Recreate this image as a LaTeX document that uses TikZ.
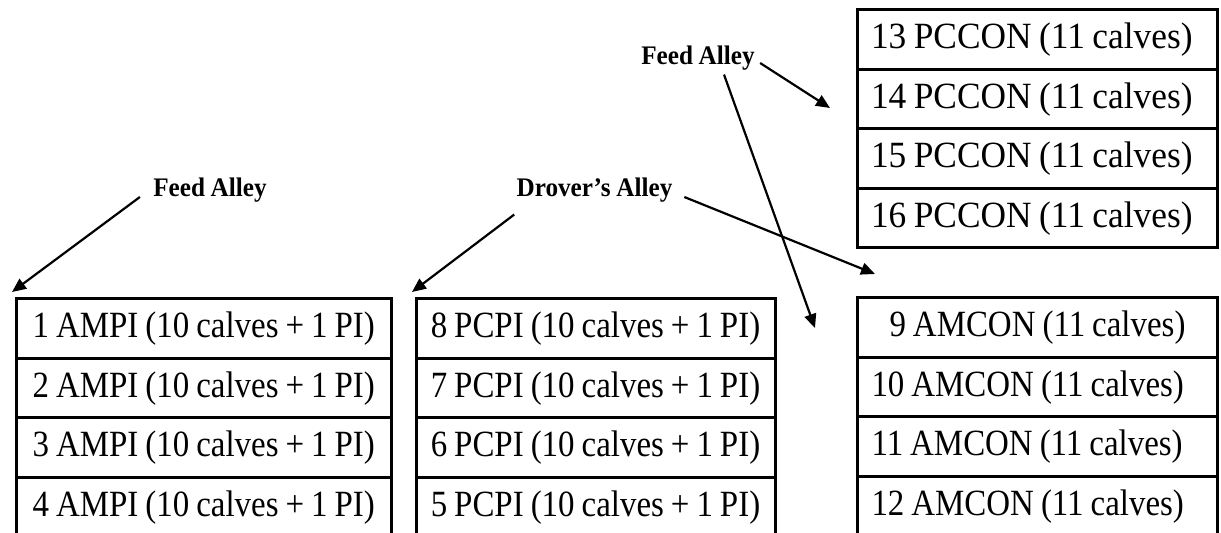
\documentclass[tikz,border=0pt]{standalone}
\usepackage{fontspec}
\setmainfont{Liberation Serif}
\newfontfamily\rowfam{Liberation Serif}[Ligatures=TeX, FakeStretch=0.89, WordSpace=0.85]
\newfontfamily\pcfam{Liberation Serif}[Ligatures=TeX, FakeStretch=0.955, WordSpace=0.85]
\newfontfamily\alleyfam{Liberation Serif}[Ligatures=TeX, FakeStretch=0.94, WordSpace=0.9]
\usetikzlibrary{positioning,arrows.meta}
\newcommand{\rowfont}{\rowfam\fontsize{18.5}{22}\selectfont}
\newcommand{\pcfont}{\pcfam\fontsize{18.5}{22}\selectfont}
\newcommand{\alleyfont}{\alleyfam\fontsize{13.4}{16}\selectfont\bfseries}
\tikzset{
  pen/.style={draw, line width=1.5pt, minimum height=29.75pt, font=\rowfont},
  ampi/.style={pen, minimum width=187.25pt},
  pcpi/.style={pen, minimum width=179.5pt},
  con/.style={pen, inner xsep=7pt, text width=166pt, align=flush left},
  pccon/.style={con, font=\pcfont},
  alley/.style={font=\alleyfont, inner sep=2pt},
  arr/.style={-{Triangle[length=7pt,width=6pt]}, line width=1.1pt}
}
\begin{document}
\begin{tikzpicture}[x=0.5pt, y=-0.5pt, node distance=29.75pt]
  \clip (0,0) rectangle (1221,533);
  \node[ampi] at (203.75,328.75) (a1) {1 AMPI (10 calves + 1 PI)};
  \node[ampi, below of=a1] (a2) {2 AMPI (10 calves + 1 PI)};
  \node[ampi, below of=a2] (a3) {3 AMPI (10 calves + 1 PI)};
  \node[ampi, below of=a3] (a4) {4 AMPI (10 calves + 1 PI)};
  \node[pcpi] at (595.5,328.75) (p8) {8 PCPI (10 calves + 1 PI)};
  \node[pcpi, below of=p8] (p7) {7 PCPI (10 calves + 1 PI)};
  \node[pcpi, below of=p7] (p6) {6 PCPI (10 calves + 1 PI)};
  \node[pcpi, below of=p6] (p5) {5 PCPI (10 calves + 1 PI)};
  \node[con, align=flush center] at (1037.5,327.75) (m9) {9 AMCON (11 calves)};
  \node[con, below of=m9] (m10) {10 AMCON (11 calves)};
  \node[con, below of=m10] (m11) {11 AMCON (11 calves)};
  \node[con, below of=m11] (m12) {12 AMCON (11 calves)};
  \node[pccon] at (1037,39.75) (c13) {13 PCCON (11 calves)};
  \node[pccon, below of=c13] (c14) {14 PCCON (11 calves)};
  \node[pccon, below of=c14] (c15) {15 PCCON (11 calves)};
  \node[pccon, below of=c15] (c16) {16 PCCON (11 calves)};
  \node[alley] at (210,190) (feedl) {Feed Alley};
  \node[alley] at (594.5,190) (drover) {Drover’s Alley};
  \node[alley] at (698,58) (feedr) {Feed Alley};
  \coordinate (tipa) at (12,292);
  \coordinate (tipp) at (412,292);
  \coordinate (tipm) at (875,274);
  \coordinate (tipc) at (830,108);
  \coordinate (tipx) at (815,328);
  \draw[arr] ([xshift=-4.5pt,yshift=-3.5pt]feedl.west) -- (tipa);
  \draw[arr] ([xshift=1pt,yshift=-4pt]drover.south west) -- (tipp);
  \draw[arr] ([xshift=3.75pt,yshift=-3.5pt]drover.east) -- (tipm);
  \draw[arr] ([xshift=0.5pt,yshift=-2.5pt]feedr.east) -- (tipc);
  \draw[arr] ([xshift=13pt]feedr.south) -- (tipx);
\end{tikzpicture}
\end{document}
